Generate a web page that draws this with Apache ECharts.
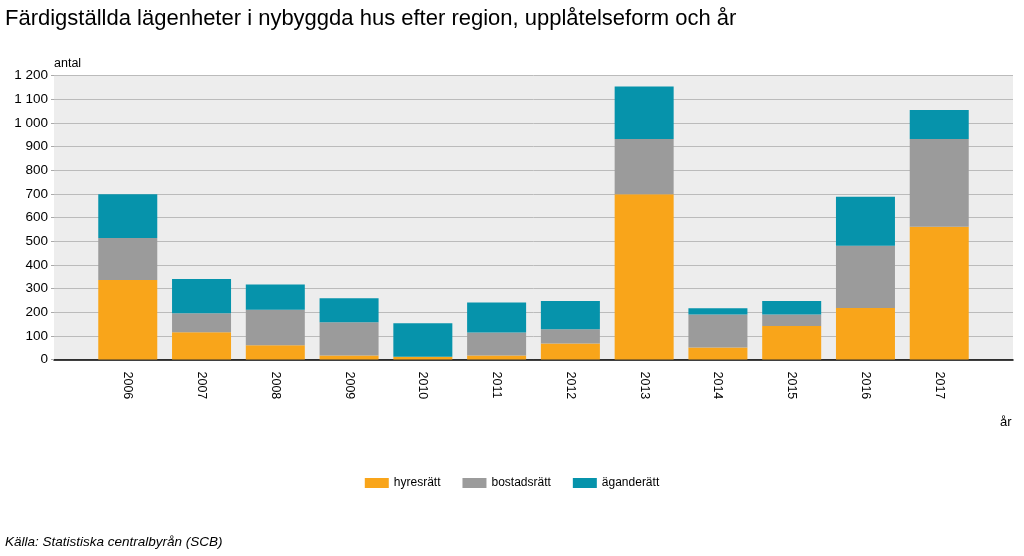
<!DOCTYPE html>
<html>
<head>
<meta charset="utf-8">
<script src="https://cdn.jsdelivr.net/npm/echarts@6/dist/echarts.min.js"></script>
<style>
  html, body { margin: 0; padding: 0; background: #fff; }
  #chart { width: 1024px; height: 556px; }
</style>
</head>
<body>
<div id="chart"></div>
<script>
// data
const years = ['2006', '2007', '2008', '2009', '2010', '2011', '2012', '2013', '2014', '2015', '2016', '2017']
const hyresratt = [336, 115, 60, 17, 12, 17, 68, 698, 51, 142, 218, 561]
const bostadsratt = [177, 80, 150, 140, 0, 97, 60, 234, 139, 48, 263, 371]
const aganderatt = [185, 145, 107, 102, 141, 127, 119, 222, 27, 57, 207, 122]
const yTicks = [0, 100, 200, 300, 400, 500, 600, 700, 800, 900, 1000, 1100, 1200]

// one empty slot on each side so the bars sit like in the original
const pad = arr => [null, ...arr, null]
const categories = ['', ...years, '']

const font = 'Liberation Sans, Arial, sans-serif'

const chart = echarts.init(document.getElementById('chart'))

chart.setOption({
  animation: false,
  textStyle: { fontFamily: font },
  title: [
    {
      text: 'Färdigställda lägenheter i nybyggda hus efter region, upplåtelseform och år',
      left: 0,
      top: 3,
      textStyle: { fontSize: 22, fontWeight: 'normal', color: '#000', fontFamily: font }
    },
    {
      text: 'år',
      left: 995,
      top: 411,
      textStyle: { fontSize: 13, fontWeight: 'normal', color: '#000', fontFamily: font }
    },
    {
      text: 'Källa: Statistiska centralbyrån (SCB)',
      left: 0,
      top: 530,
      textStyle: { fontSize: 13.5, fontWeight: 'normal', fontStyle: 'italic', color: '#000', fontFamily: font }
    }
  ],
  grid: {
    left: 54,
    right: 11,
    top: 75.5,
    bottom: 196.5,
    show: true,
    backgroundColor: '#ededed',
    borderWidth: 0
  },
  legend: {
    data: ['hyresrätt', 'bostadsrätt', 'äganderätt'],
    left: 'center',
    top: 472,
    itemWidth: 24,
    itemHeight: 10,
    itemGap: 22,
    icon: 'rect',
    textStyle: { fontSize: 12, color: '#000', fontFamily: font }
  },
  xAxis: {
    type: 'category',
    data: categories,
    boundaryGap: false,
    axisLine: { lineStyle: { color: '#000', width: 1.5 } },
    axisTick: { show: false },
    splitLine: { show: false },
    axisLabel: {
      rotate: -90,
      margin: 12,
      interval: 0,
      fontSize: 12.5,
      color: '#000'
    }
  },
  yAxis: {
    type: 'value',
    min: 0,
    max: 1200,
    interval: 100,
    name: 'antal',
    nameLocation: 'end',
    nameGap: 5,
    nameTextStyle: { align: 'left', fontSize: 12.5, color: '#000' },
    axisLine: { show: false },
    axisTick: { show: true, length: 3, lineStyle: { color: '#aaa' } },
    splitLine: { lineStyle: { color: '#bbb', width: 1 } },
    axisLabel: {
      fontSize: 13.5,
      color: '#000',
      margin: 6,
      formatter: v => yTicks.includes(v) ? String(v).replace(/\B(?=(\d{3})+(?!\d))/g, ' ') : ''
    }
  },
  series: [
    {
      name: 'hyresrätt',
      type: 'bar',
      stack: 'total',
      barWidth: 59,
      itemStyle: { color: '#f9a51a' },
      data: pad(hyresratt)
    },
    {
      name: 'bostadsrätt',
      type: 'bar',
      stack: 'total',
      barWidth: 59,
      itemStyle: { color: '#9b9b9b' },
      data: pad(bostadsratt)
    },
    {
      name: 'äganderätt',
      type: 'bar',
      stack: 'total',
      barWidth: 59,
      itemStyle: { color: '#0693ab' },
      data: pad(aganderatt)
    }
  ]
})
</script>
</body>
</html>
